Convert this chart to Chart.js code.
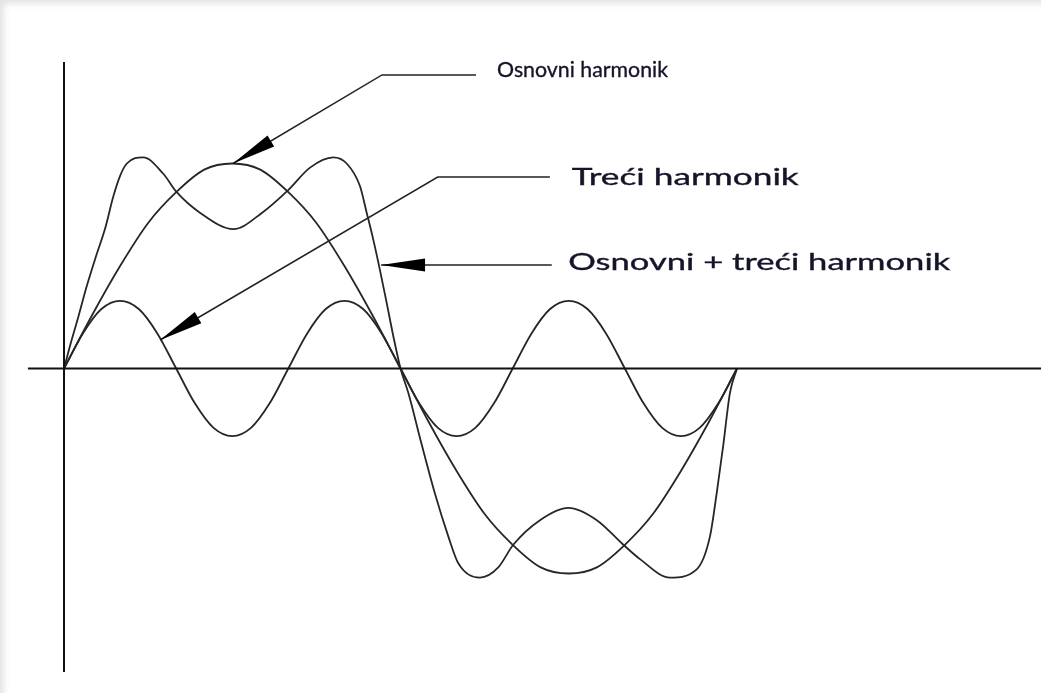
<!DOCTYPE html>
<html>
<head>
<meta charset="utf-8">
<script src="https://cdn.jsdelivr.net/npm/chart.js@4.4.1/dist/chart.umd.min.js"></script>
<style>
  html, body { margin: 0; padding: 0; background: #fff; }
  #wrap { position: relative; width: 1041px; height: 693px; box-shadow: inset 7px 7px 6px -3px #e4e4e4; }
  canvas { display: block; }
</style>
</head>
<body>
<div id="wrap"><canvas id="harm" width="1041" height="693"></canvas></div>
<script>
// x in degrees of the fundamental, y in units of the fundamental amplitude
const fundX = [0, 15, 30, 45, 60, 75, 90, 105, 120, 135, 150, 165, 180, 195, 210, 225, 240, 255, 270, 285, 300, 315, 330, 345, 360];
const fundY = [0, 0.26, 0.5, 0.71, 0.86, 0.97, 1, 0.97, 0.86, 0.71, 0.5, 0.26, 0, -0.26, -0.5, -0.71, -0.86, -0.97, -1, -0.97, -0.86, -0.71, -0.5, -0.26, 0];

const thirdX = [0, 10, 20, 30, 40, 50, 60, 70, 80, 90, 100, 110, 120, 130, 140, 150, 160, 170, 180, 190, 200, 210, 220, 230, 240, 250, 260, 270, 280, 290, 300, 310, 320, 330, 340, 350, 360];
const thirdY = [0, 0.17, 0.29, 0.33, 0.29, 0.17, 0, -0.17, -0.29, -0.33, -0.29, -0.17, 0, 0.17, 0.29, 0.33, 0.29, 0.17, 0, -0.17, -0.29, -0.33, -0.29, -0.17, 0, 0.17, 0.29, 0.33, 0.29, 0.17, 0, -0.17, -0.29, -0.33, -0.29, -0.17, 0];

const sumX = [0, 3.2, 7.6, 12.1, 17.2, 21.9, 26.4, 30, 33.6, 42.4, 53.1, 60.3, 72.7, 90.6, 106, 119.9, 131.6, 144, 151.2, 158.3, 161.9, 165.4, 169, 172.6, 176.1, 180,
              184.2, 191.3, 198.4, 205.6, 210.9, 222.5, 232.3, 240.3, 254.6, 269.8, 285, 299.2, 308.1, 324.1, 338.4, 345.5, 349.1, 352.7, 356.2, 360];
const sumY = [0, 0.11, 0.25, 0.4, 0.55, 0.68, 0.84, 0.94, 1.0, 1.03, 0.95, 0.86, 0.76, 0.68, 0.76, 0.87, 0.98, 1.03, 1.0, 0.89, 0.76, 0.63, 0.48, 0.32, 0.16, 0,
              -0.12, -0.37, -0.61, -0.82, -0.95, -1.02, -0.97, -0.86, -0.74, -0.68, -0.74, -0.86, -0.93, -1.02, -0.98, -0.82, -0.61, -0.37, -0.12, 0];

// axes drawn as lines
const axisHX = [-19.3, 522.6];
const axisHY = [0, 0];
const axisVX = [0, 0];
const axisVY = [1.495, -1.48];

// labels with leader lines (last leader point is the arrow tip)
const labels = ["Osnovni harmonik", "Treći harmonik", "Osnovni + treći harmonik"];
const labelX = [231.6, 271.6, 269.7];
const labelY = [1.422, 0.895, 0.48];
const leaderX = [[220.4, 170.1, 90.4], [259.9, 199.9, 51.4], [260.9, 169.6]];
const leaderY = [[1.432, 1.432, 1.0], [0.934, 0.934, 0.139], [0.505, 0.505]];

// label look in the picture (the lower two are stretched sideways)
const labelWidths = [171, 227, 382];
const labelSizes = [22, 23, 23];

function zip(xs, ys) {
  return xs.map((x, i) => ({ x: x, y: ys[i] }));
}

const curve = {
  borderColor: "#262626",
  borderWidth: 1.8,
  pointRadius: 0,
  cubicInterpolationMode: "monotone",
  fill: false,
};
const axisLine = {
  borderColor: "#111",
  borderWidth: 2,
  pointRadius: 0,
  tension: 0,
  fill: false,
};

const annotations = {
  id: "annotations",
  afterDatasetsDraw(chart) {
    const ctx = chart.ctx;
    const sx = chart.scales.x, sy = chart.scales.y;
    ctx.save();
    labels.forEach((text, i) => {
      const pts = leaderX[i].map((x, j) => [sx.getPixelForValue(x), sy.getPixelForValue(leaderY[i][j])]);
      ctx.strokeStyle = "#222";
      ctx.lineWidth = 1.5;
      ctx.beginPath();
      ctx.moveTo(pts[0][0], pts[0][1]);
      for (let j = 1; j < pts.length; j++) ctx.lineTo(pts[j][0], pts[j][1]);
      ctx.stroke();

      // arrow head
      const tip = pts[pts.length - 1], prev = pts[pts.length - 2];
      const ang = Math.atan2(prev[1] - tip[1], prev[0] - tip[0]);
      const len = 44, half = 6.5;
      const bx = tip[0] + Math.cos(ang) * len, by = tip[1] + Math.sin(ang) * len;
      ctx.fillStyle = "#000";
      ctx.beginPath();
      ctx.moveTo(tip[0], tip[1]);
      ctx.lineTo(bx - Math.sin(ang) * half, by + Math.cos(ang) * half);
      ctx.lineTo(bx + Math.sin(ang) * half, by - Math.cos(ang) * half);
      ctx.closePath();
      ctx.fill();

      // label, scaled sideways to its width in the picture
      ctx.font = labelSizes[i] + "px Lato";
      ctx.fillStyle = "#15152a";
      ctx.strokeStyle = "#15152a";
      ctx.lineWidth = 0.35;
      ctx.textBaseline = "alphabetic";
      ctx.textAlign = "left";
      const w = ctx.measureText(text).width;
      const lx = sx.getPixelForValue(labelX[i]), ly = sy.getPixelForValue(labelY[i]);
      ctx.save();
      ctx.translate(lx, ly);
      ctx.scale(labelWidths[i] / w, 1);
      ctx.fillText(text, 0, 0);
      ctx.strokeText(text, 0, 0);
      ctx.restore();
    });
    ctx.restore();
  },
};

new Chart(document.getElementById("harm"), {
  type: "line",
  data: {
    datasets: [
      Object.assign({ data: zip(axisHX, axisHY) }, axisLine),
      Object.assign({ data: zip(axisVX, axisVY) }, axisLine),
      Object.assign({ label: "Osnovni harmonik", data: zip(fundX, fundY) }, curve),
      Object.assign({ label: "Treći harmonik", data: zip(thirdX, thirdY) }, curve),
      Object.assign({ label: "Osnovni + treći harmonik", data: zip(sumX, sumY) }, curve),
    ],
  },
  options: {
    responsive: false,
    animation: false,
    layout: { padding: 0 },
    plugins: { legend: { display: false }, tooltip: { enabled: false } },
    scales: {
      x: { type: "linear", display: false, min: -34.24, max: 522.6 },
      y: { type: "linear", display: false, min: -1.583, max: 1.7976 },
    },
  },
  plugins: [annotations],
});
</script>
</body>
</html>
